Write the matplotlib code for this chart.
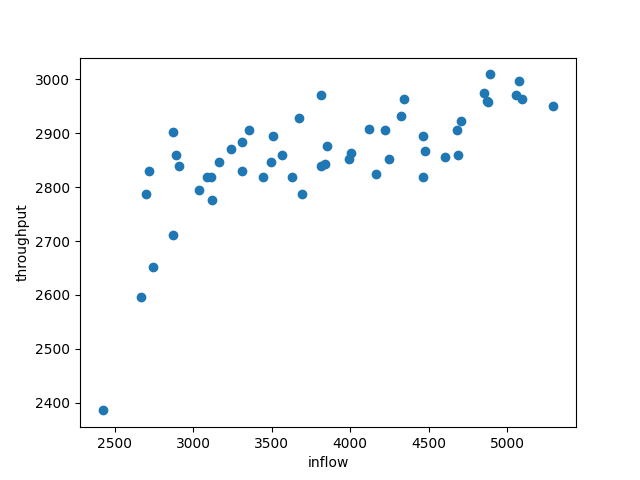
import matplotlib
matplotlib.use("Agg")
import matplotlib.pyplot as plt

inflow = [2423, 2666, 2697, 2717, 2742, 2870, 2870, 2889, 2908, 3036,
          3087, 3113, 3119, 3164, 3240, 3311, 3311, 3355, 3445, 3496,
          3508, 3566, 3630, 3674, 3694, 3815, 3815, 3840, 3853, 3994,
          4007, 4121, 4166, 4224, 4249, 4326, 4345, 4466, 4466, 4479,
          4607, 4683, 4690, 4709, 4856, 4875, 4881, 4894, 5060, 5079,
          5098, 5296]
throughput = [2386, 2597, 2788, 2829, 2652, 2903, 2712, 2860, 2840, 2795,
              2819, 2819, 2777, 2847, 2871, 2884, 2829, 2905, 2819, 2847,
              2895, 2860, 2819, 2929, 2788, 2971, 2840, 2843, 2877, 2853,
              2864, 2908, 2825, 2905, 2853, 2931, 2963, 2895, 2819, 2867,
              2856, 2905, 2860, 2923, 2975, 2960, 2957, 3009, 2971, 2996,
              2963, 2951]

fig, ax = plt.subplots(figsize=(6.4, 4.8), dpi=100)
ax.scatter(inflow, throughput)
ax.set_xlabel("inflow")
ax.set_ylabel("throughput")
fig.savefig("out.png")
